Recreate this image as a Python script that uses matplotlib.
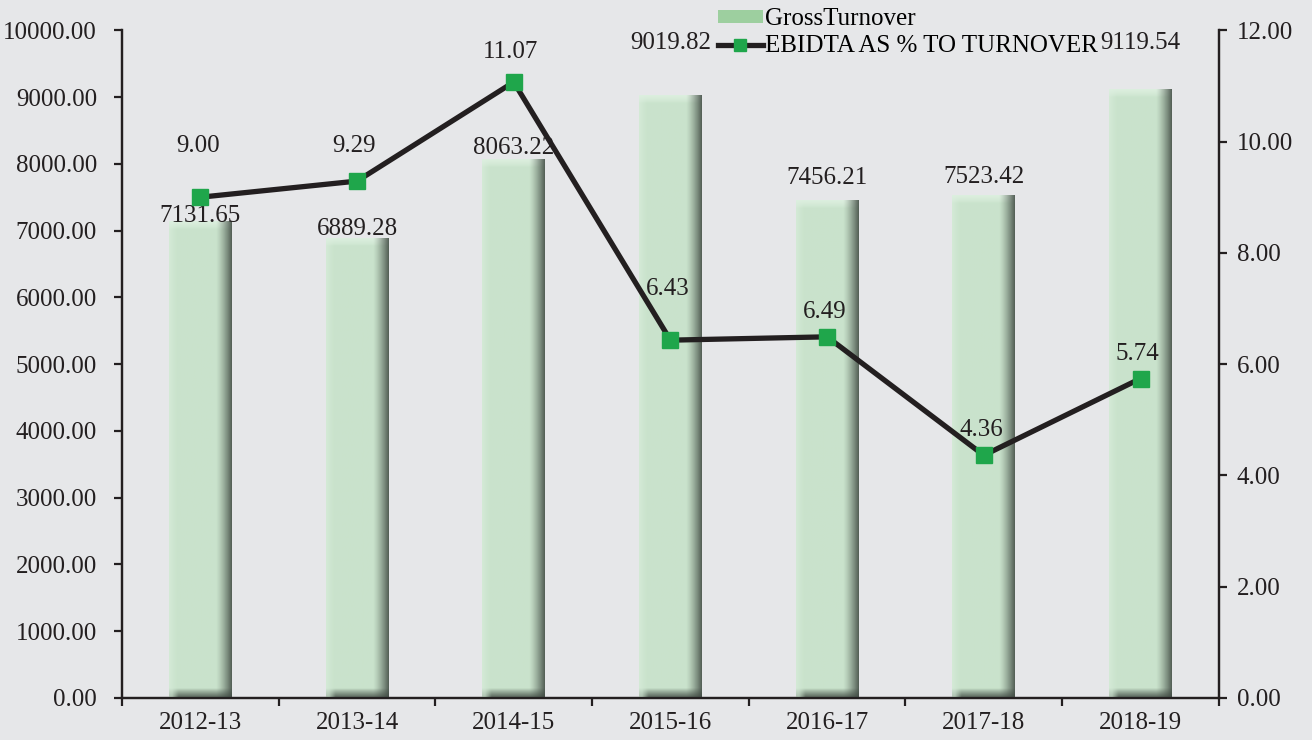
import numpy as np
import matplotlib
matplotlib.use("Agg")
import matplotlib.pyplot as plt
from matplotlib.lines import Line2D
from matplotlib.patches import Patch
from matplotlib.ticker import FormatStrFormatter

# data
years = ["2012-13", "2013-14", "2014-15", "2015-16", "2016-17", "2017-18", "2018-19"]
turnover = [7131.65, 6889.28, 8063.22, 9019.82, 7456.21, 7523.42, 9119.54]
ebidta_pct = [9.00, 9.29, 11.07, 6.43, 6.49, 4.36, 5.74]

# label placement (manual in the original)
turnover_label_y = [7216, 7021, 8234, 9805, 7784, 7799, 9805]
ebidta_label_dy = [37, 25, 22, 37, 18, 18, 18]

bg = "#e6e7e9"
bar_col = "#c9e3cc"
legend_bar_col = "#9dcf9f"
marker_col = "#1fa64b"
line_col = "#231f20"

plt.rcParams["font.family"] = ["Liberation Serif", "DejaVu Serif"]
plt.rcParams["font.size"] = 18

fig = plt.figure(figsize=(13.12, 7.4), dpi=100, facecolor=bg)
ax = fig.add_axes([0.093, 0.057, 0.836, 0.902], facecolor=bg)
ax2 = ax.twinx()

x = np.arange(len(years))
bars = ax.bar(x, turnover, width=0.40, color=bar_col, zorder=2)

ax.set_xlim(-0.5, len(years) - 0.5)
ax.set_ylim(0, 10000)
ax2.set_ylim(0, 12)

# bevel shading on each bar
top_band, bot_band = 110, 140
for r in bars:
    x0, w, h = r.get_x(), r.get_width(), r.get_height()
    ny, nx = 500, 80
    v = np.linspace(h, 0, ny)[:, None]          # data height, top row first
    u = np.linspace(0, 1, nx)[None, :]
    base = np.array([0.79, 0.89, 0.80])
    light = np.array([0.87, 0.94, 0.88])
    dark = np.array([0.25, 0.29, 0.26])
    img = np.ones((ny, nx, 3)) * base
    left_t = np.clip((0.12 - u) / 0.12, 0, 1) * 0.5
    img = img + (light - base) * left_t[..., None]
    top_t = np.clip((v - (h - top_band)) / top_band, 0, 1) ** 0.7 * np.ones_like(u)
    img = img + (light - img) * (top_t[..., None] * 0.9)
    right_t = np.clip((u - 0.75) / 0.25, 0, 1) ** 1.3 * np.ones_like(v)
    img = img + (dark - img) * (right_t[..., None] * 0.85)
    bot_t = np.clip((bot_band - v) / bot_band, 0, 1) ** 0.9 * np.ones_like(u)
    bot_t = bot_t * np.clip(u / 0.15, 0.3, 1)
    img = img + (dark - img) * (bot_t[..., None] * 0.85)
    ax.imshow(np.clip(img, 0, 1), extent=(x0, x0 + w, 0, h), aspect="auto",
              zorder=3, interpolation="bilinear")
ax.set_xlim(-0.5, len(years) - 0.5)
ax.set_ylim(0, 10000)

for xi, val, ly in zip(x, turnover, turnover_label_y):
    ax.text(xi, ly, f"{val:.2f}", ha="center", va="center", color="#231f20", zorder=5)

ax2.plot(x, ebidta_pct, color=line_col, lw=3.8, marker="s", markersize=12,
         markerfacecolor=marker_col, markeredgecolor=marker_col, zorder=4)
for xi, val, dy in zip(x, ebidta_pct, ebidta_label_dy):
    ax2.annotate(f"{val:.2f}", (xi, val), xytext=(-2, dy), textcoords="offset points",
                 ha="center", va="center", color="#231f20")

# axes styling
for a in (ax, ax2):
    a.spines["top"].set_visible(False)
    for s in ("left", "right", "bottom"):
        a.spines[s].set_linewidth(1.6)
        a.spines[s].set_color("#231f20")
ax.yaxis.set_major_formatter(FormatStrFormatter("%.2f"))
ax2.yaxis.set_major_formatter(FormatStrFormatter("%.2f"))
ax.set_yticks(np.arange(0, 10001, 1000))
ax2.set_yticks(np.arange(0, 12.1, 2))
ax.tick_params(axis="y", direction="out", length=6, width=1.6, pad=12, colors="#231f20")
ax2.tick_params(axis="y", direction="out", length=6, width=1.6, pad=7, colors="#231f20")

ax.set_xticks(x)
ax.set_xticklabels(years)
ax.set_xticks(np.arange(-0.5, len(years)), minor=True)
ax.tick_params(axis="x", which="major", length=0, pad=10, colors="#231f20")
ax.tick_params(axis="x", which="minor", direction="out", length=6, width=1.6, color="#231f20")

handles = [Patch(facecolor=legend_bar_col, edgecolor="none"),
           Line2D([], [], color=line_col, lw=3.8, marker="s", markersize=8,
                  markerfacecolor=marker_col, markeredgecolor=marker_col)]
ax2.legend(handles, ["GrossTurnover", "EBIDTA AS % TO TURNOVER"], loc="upper left",
           bbox_to_anchor=(0.534, 1.048), frameon=False, handlelength=1.8,
           handleheight=0.4, handletextpad=0.1, labelspacing=0.2, borderaxespad=0)

fig.savefig("out.png", dpi=100, facecolor=bg)
